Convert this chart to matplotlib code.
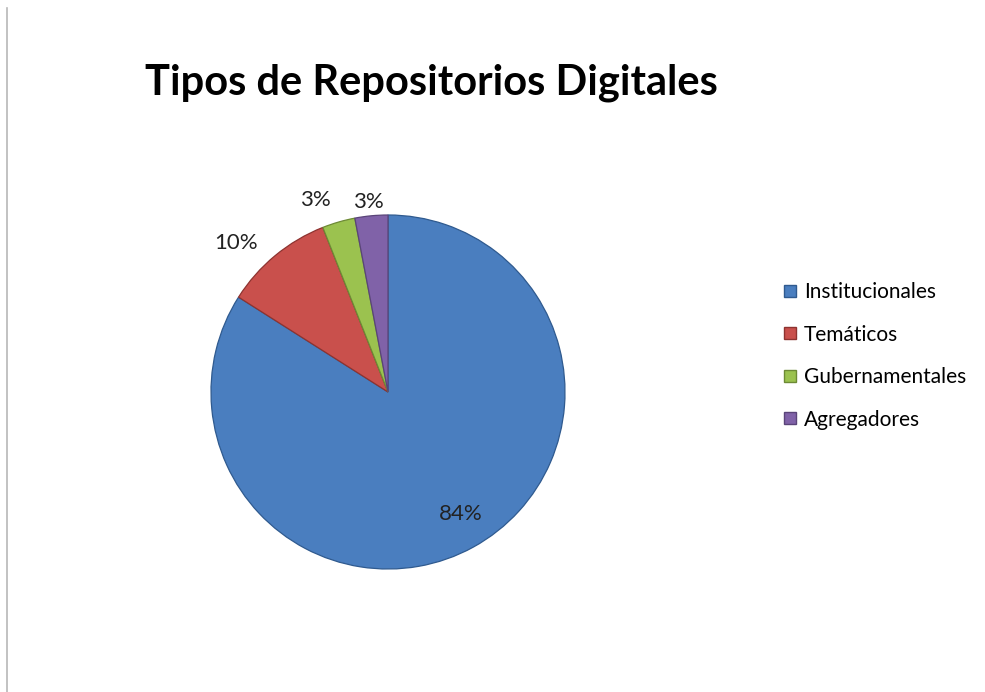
import matplotlib.pyplot as plt
import numpy as np
from matplotlib.lines import Line2D

categories = ["Institucionales", "Temáticos", "Gubernamentales", "Agregadores"]
shares = [84, 10, 3, 3]
colors = ["#4a7ebf", "#c9504c", "#9bc24f", "#8062a8"]
edges = ["#2f5a8f", "#8e3330", "#6d8a35", "#5a4479"]

plt.rcParams["font.family"] = ["Lato", "DejaVu Sans"]

fig = plt.figure(figsize=(9.85, 6.92), dpi=100)
W, H = 985, 692
cx, cy, r = 388, 392, 177
ax = fig.add_axes([(cx - r) / W, (H - cy - r) / H, 2 * r / W, 2 * r / H])

wedges, _, autotexts = ax.pie(
    shares, colors=colors, startangle=90, counterclock=False,
    autopct=lambda p: f"{p:.0f}%", pctdistance=0.78,
    wedgeprops=dict(linewidth=0.9),
    textprops=dict(fontsize=16, color="#222222"),
)
for w, ec in zip(wedges, edges):
    w.set_edgecolor(ec)

# move label positions like Excel's best fit
dist = [0.80, 1.20, 1.16, 1.08]
shift = [2.0, 6.0, 4.5, 0.5]
for w, t, d, s in zip(wedges, autotexts, dist, shift):
    mid = np.deg2rad((w.theta1 + w.theta2) / 2 + s)
    t.set_position((d * np.cos(mid), d * np.sin(mid)))
    t.set_ha("center")
    t.set_va("center")

ax.set_xlim(-1, 1)
ax.set_ylim(-1, 1)
ax.set_aspect("equal")
ax.axis("off")

fig.text(431 / W, 1 - 83 / H, "Tipos de Repositorios Digitales",
         ha="center", va="center", fontsize=30, fontweight="bold")

handles = [Line2D([], [], marker="s", linestyle="none", markersize=9,
                  markerfacecolor=c, markeredgecolor=e)
           for c, e in zip(colors, edges)]
fig.legend(handles, categories, loc="center left",
           bbox_to_anchor=(761 / W, 1 - 356 / H), frameon=False,
           fontsize=15, labelspacing=1.08, handletextpad=0.15,
           handlelength=1.0)

fig.add_artist(Line2D([7 / W, 7 / W], [0, 1 - 8 / H], color="#b8b8b8",
                      linewidth=1.2))

fig.savefig("out.png", dpi=100)
